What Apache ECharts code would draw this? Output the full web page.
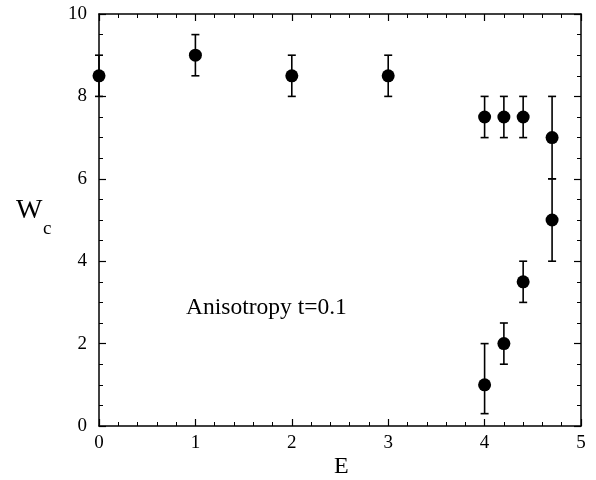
<!DOCTYPE html>
<html>
<head>
<meta charset="utf-8">
<script src="https://cdn.jsdelivr.net/npm/echarts@6/dist/echarts.min.js"></script>
<style>
  html, body { margin: 0; padding: 0; background: #fff; }
  #main { width: 596px; height: 480px; }
</style>
</head>
<body>
<div id="main"></div>
<script>
var eValues  = [0,   1,   2,   3,   4,   4.2, 4.4, 4.7, 4.7, 4,   4.2, 4.4];
var wcValues = [8.5, 9,   8.5, 8.5, 7.5, 7.5, 7.5, 7,   5,   1,   2,   3.5];
var errLow   = [8.0, 8.5, 8.0, 8.0, 7.0, 7.0, 7.0, 6.0, 4.0, 0.3, 1.5, 3.0];
var errHigh  = [9.0, 9.5, 9.0, 9.0, 8.0, 8.0, 8.0, 8.0, 6.0, 2.0, 2.5, 4.0];

var xTicks = [0, 1, 2, 3, 4, 5];
var yTicks = [0, 2, 4, 6, 8, 10];

var chart = echarts.init(document.getElementById("main"));

var font = "'Liberation Serif', 'DejaVu Serif', serif";

function points() {
    var result = [];
    for (var i = 0; i < eValues.length; i++) {
        result.push([eValues[i], wcValues[i]]);
    }
    return result;
}

function bars() {
    var result = [];
    for (var i = 0; i < eValues.length; i++) {
        result.push([eValues[i], errLow[i], errHigh[i]]);
    }
    return result;
}

function makeAxis(ticks, interval, labels, pos, minorSplit, margin) {
    return {
        type: 'value',
        position: pos,
        min: ticks[0],
        max: ticks[ticks.length - 1],
        interval: interval,
        axisLine: { show: true, onZero: false, lineStyle: { color: '#000', width: 1.5 } },
        axisTick: { show: true, inside: true, length: 7, lineStyle: { color: '#000', width: 1.2 } },
        minorTick: { show: true, splitNumber: minorSplit, length: 4, lineStyle: { color: '#000', width: 1 } },
        splitLine: { show: false },
        axisLabel: {
            show: labels,
            color: '#000',
            fontFamily: font,
            fontSize: 19,
            margin: margin
        }
    };
}

option = {
    animation: false,
    grid: { left: 99, right: 15, top: 14, bottom: 54 },
    xAxis: [
        makeAxis(xTicks, 1, true, 'bottom', 5, 8),
        makeAxis(xTicks, 1, false, 'top', 5, 8)
    ],
    yAxis: [
        makeAxis(yTicks, 2, true, 'left', 4, 12),
        makeAxis(yTicks, 2, false, 'right', 4, 12)
    ],
    graphic: [
        {
            type: 'text', left: 16, top: 197,
            style: { text: 'W', fontFamily: font, fontSize: 28, fill: '#000' }
        },
        {
            type: 'text', left: 43, top: 220,
            style: { text: 'c', fontFamily: font, fontSize: 19, fill: '#000' }
        },
        {
            type: 'text', left: 334, top: 455,
            style: { text: 'E', fontFamily: font, fontSize: 24, fill: '#000' }
        },
        {
            type: 'text', left: 186, top: 296,
            style: { text: 'Anisotropy t=0.1', fontFamily: font, fontSize: 23.5, fill: '#000' }
        }
    ],
    series: [
        {
            type: 'custom',
            data: bars(),
            z: 2,
            renderItem: function (params, api) {
                var lo = api.coord([api.value(0), api.value(1)]);
                var hi = api.coord([api.value(0), api.value(2)]);
                var w = 4;
                var st = { stroke: '#000', lineWidth: 1.6 };
                return {
                    type: 'group',
                    children: [
                        { type: 'line', shape: { x1: lo[0], y1: lo[1], x2: hi[0], y2: hi[1] }, style: st },
                        { type: 'line', shape: { x1: lo[0] - w, y1: lo[1], x2: lo[0] + w, y2: lo[1] }, style: st },
                        { type: 'line', shape: { x1: hi[0] - w, y1: hi[1], x2: hi[0] + w, y2: hi[1] }, style: st }
                    ]
                };
            }
        },
        {
            type: 'scatter',
            data: points(),
            symbol: 'circle',
            symbolSize: 13,
            z: 3,
            itemStyle: { color: '#000', opacity: 1 }
        },
        {
            // empty series so the mirrored top/right axes get drawn
            type: 'scatter',
            xAxisIndex: 1,
            yAxisIndex: 1,
            data: [],
            silent: true
        }
    ]
};

chart.setOption(option);
</script>
</body>
</html>
